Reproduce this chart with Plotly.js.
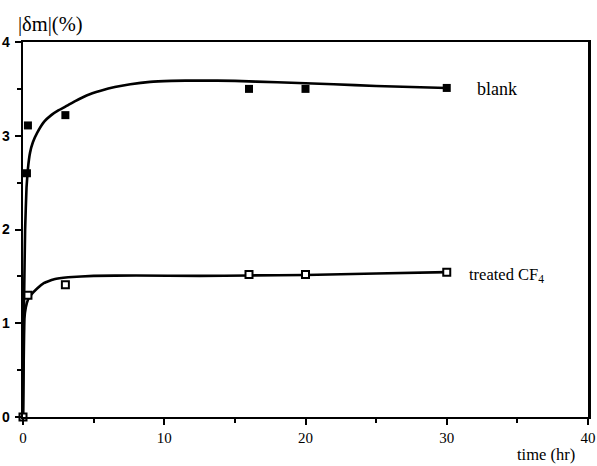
<!DOCTYPE html>
<html>
<head>
<meta charset="utf-8">
<script src="https://cdn.plot.ly/plotly-3.0.1.min.js"></script>
<style>html,body{margin:0;padding:0;background:#fff;}#chart{width:597px;height:466px;}</style>
</head>
<body>
<div id="chart"></div>
<script>
// Measured points
const blankTime = [0.28, 0.35, 3, 16, 20, 30];
const blankDm = [2.6, 3.11, 3.22, 3.5, 3.5, 3.51];
const treatedTime = [0, 0.35, 3, 16, 20, 30];
const treatedDm = [0, 1.3, 1.41, 1.52, 1.52, 1.545];

// Fitted curves
const blankCurveT = [0, 0.03, 0.08, 0.15, 0.25, 0.35, 0.5, 0.7, 1.0, 1.5, 2.0, 2.5, 3.0, 3.7, 4.5, 5.5, 6.5, 7.6, 9, 10.5, 12.5, 15, 18, 22, 25, 30];
const blankCurveY = [0, 0.6, 1.3, 2.0, 2.45, 2.65, 2.82, 2.93, 3.03, 3.15, 3.22, 3.27, 3.31, 3.37, 3.43, 3.48, 3.52, 3.55, 3.575, 3.585, 3.59, 3.585, 3.57, 3.55, 3.53, 3.51];
const treatedCurveT = [0, 0.05, 0.1, 0.2, 0.35, 0.5, 1, 1.5, 2.2, 3.2, 5, 8, 12.5, 16, 20, 25, 30];
const treatedCurveY = [0, 0.6, 1.05, 1.17, 1.25, 1.29, 1.37, 1.43, 1.47, 1.49, 1.505, 1.51, 1.505, 1.51, 1.515, 1.53, 1.545];

const xTicks = [0, 10, 20, 30, 40];
const yTicks = [0, 1, 2, 3, 4];

const serif = '"Liberation Serif", "Times New Roman", serif';
const sans = '"Liberation Sans", Arial, sans-serif';

const traces = [
  {x: blankCurveT, y: blankCurveY, mode: 'lines', line: {color: '#000', width: 2.6, shape: 'spline', smoothing: 0.3}, hoverinfo: 'skip', cliponaxis: false},
  {x: treatedCurveT, y: treatedCurveY, mode: 'lines', line: {color: '#000', width: 2.6, shape: 'spline', smoothing: 0.3}, hoverinfo: 'skip', cliponaxis: false},
  {x: blankTime, y: blankDm, mode: 'markers', marker: {symbol: 'square', size: 8, color: '#000'}, cliponaxis: false},
  {x: treatedTime, y: treatedDm, mode: 'markers', marker: {symbol: 'square', size: 7, color: '#fff', line: {color: '#000', width: 2}}, cliponaxis: false}
];

const layout = {
  width: 597, height: 466,
  margin: {l: 23, r: 9, t: 42, b: 49},
  paper_bgcolor: '#fff', plot_bgcolor: '#fff',
  showlegend: false,
  xaxis: {
    range: [0, 40], tickvals: xTicks, ticktext: xTicks.map(String),
    ticks: 'outside', ticklen: 6, tickwidth: 2, tickcolor: '#000',
    minor: {dtick: 5, tick0: 0, ticks: 'outside', ticklen: 4, tickwidth: 2, tickcolor: '#000'},
    showline: true, linewidth: 2, linecolor: '#000', mirror: true,
    showgrid: false, zeroline: false,
    tickfont: {family: serif, size: 15, color: '#000'}
  },
  yaxis: {
    range: [0, 4], tickvals: yTicks, ticktext: yTicks.map(String),
    ticks: 'outside', ticklen: 6, tickwidth: 2, tickcolor: '#000',
    minor: {dtick: 0.5, tick0: 0, ticks: 'outside', ticklen: 4, tickwidth: 2, tickcolor: '#000'},
    showline: true, linewidth: 2.5, linecolor: '#000', mirror: true,
    showgrid: false, zeroline: false,
    tickfont: {family: sans, size: 14, color: '#000', weight: 'bold'},
    ticklabelstandoff: 2
  },
  annotations: [
    {xref: 'paper', yref: 'paper', x: -0.012, y: 1.046, xanchor: 'left', yanchor: 'middle', showarrow: false,
     text: '|δm|(%)', font: {family: serif, size: 20.5, color: '#000'}},
    {xref: 'paper', yref: 'paper', x: 0.98, y: -0.1, xanchor: 'right', yanchor: 'middle', showarrow: false,
     text: 'time (hr)', font: {family: serif, size: 16.5, color: '#000'}},
    {xref: 'x', yref: 'y', x: 32.0, y: 3.5, xanchor: 'left', yanchor: 'middle', showarrow: false,
     text: 'blank', font: {family: serif, size: 18, color: '#000'}},
    {xref: 'x', yref: 'y', x: 31.45, y: 1.51, xanchor: 'left', yanchor: 'middle', showarrow: false,
     text: 'treated CF<sub>4</sub>', font: {family: serif, size: 16.5, color: '#000'}}
  ]
};

Plotly.newPlot('chart', traces, layout, {displayModeBar: false, staticPlot: true});
</script>
</body>
</html>
